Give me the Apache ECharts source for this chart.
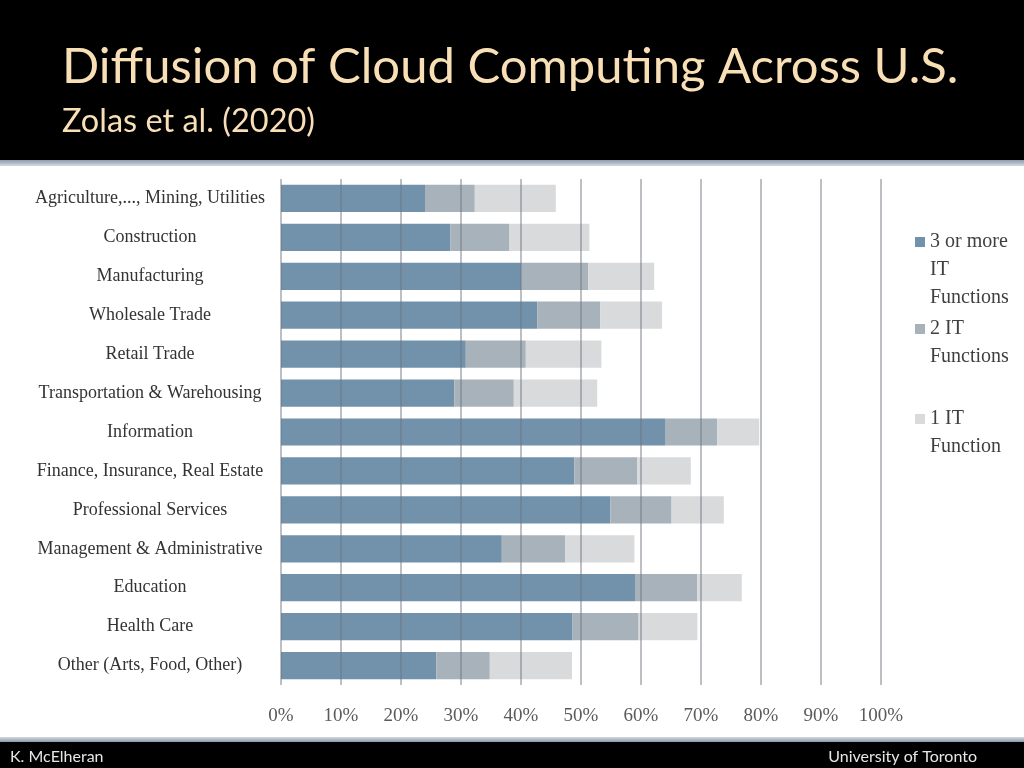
<!DOCTYPE html>
<html>
<head>
<meta charset="utf-8">
<script src="https://cdn.jsdelivr.net/npm/echarts@6/dist/echarts.min.js"></script>
<style>
html,body{margin:0;padding:0;background:#fff;}
#chart{width:1024px;height:768px;}
</style>
</head>
<body>
<div id="chart"></div>
<script>
const categories = [
  'Agriculture,..., Mining, Utilities',
  'Construction',
  'Manufacturing',
  'Wholesale Trade',
  'Retail Trade',
  'Transportation & Warehousing',
  'Information',
  'Finance, Insurance, Real Estate',
  'Professional Services',
  'Management & Administrative',
  'Education',
  'Health Care',
  'Other (Arts, Food, Other)'
];
const threeOrMore = [24.0, 28.2, 40.1, 42.7, 30.8, 28.9, 64.0, 48.9, 54.9, 36.8, 59.0, 48.6, 25.9];
const twoIT =       [8.3, 9.8, 11.1, 10.5, 10.0, 9.9, 8.7, 10.5, 10.2, 10.6, 10.4, 11.0, 8.9];
const oneIT =       [13.5, 13.4, 11.0, 10.3, 12.6, 13.9, 7.0, 8.9, 8.7, 11.5, 7.4, 9.8, 13.7];
const seriesNames = ['3 or more IT Functions', '2 IT Functions', '1 IT Function'];
const legendLabels = ['3 or more\nIT\nFunctions', '2 IT\nFunctions', '1 IT\nFunction'];
const titleText = 'Diffusion of Cloud Computing Across U.S.';
const subtitleText = 'Zolas et al. (2020)';
const footerLeft = 'K. McElheran';
const footerRight = 'University of Toronto';

const colors = ['#7292ab', '#a8b2bb', '#d9dadc'];
const serif = '"Liberation Serif", "DejaVu Serif", serif';
const LH = 28;

const chart = echarts.init(document.getElementById('chart'));

// legend icon: a 10px square at the top of a taller (invisible) box, so it lines up with the first text line
function makeLegend(i, top, lines) {
  const h = 10 + (lines - 1) * LH;
  return {
    show: true,
    orient: 'vertical',
    left: 915,
    top: top,
    padding: 0,
    itemWidth: 10,
    itemHeight: h,
    selectedMode: false,
    data: [{ name: seriesNames[i], icon: 'path://M0,0L10,0L10,10L0,10Z M0,' + h + 'L0.01,' + h + 'Z' }],
    formatter: function () { return legendLabels[i]; },
    textStyle: {
      fontFamily: serif,
      fontSize: 20,
      color: '#404040',
      lineHeight: LH
    }
  };
}

const option = {
  backgroundColor: '#ffffff',
  animation: false,
  grid: { left: 281, right: 143, top: 179, bottom: 83, containLabel: false },
  legend: [
    makeLegend(0, 228, 3),
    makeLegend(1, 315, 2),
    makeLegend(2, 405, 2)
  ],
  xAxis: {
    type: 'value',
    min: 0,
    max: 100,
    interval: 10,
    z: 5,
    axisLine: { show: false },
    axisTick: { show: false },
    splitLine: { show: true, lineStyle: { color: 'rgba(110,118,128,0.62)', width: 1.5 } },
    axisLabel: {
      formatter: '{value}%',
      fontFamily: serif,
      fontSize: 19,
      color: '#5a5a5a',
      margin: 22
    }
  },
  yAxis: {
    type: 'category',
    inverse: true,
    data: categories,
    axisLine: { show: false },
    axisTick: { show: false },
    axisLabel: {
      align: 'center',
      margin: 131,
      fontFamily: serif,
      fontSize: 18,
      color: '#333333'
    }
  },
  series: [
    { name: seriesNames[0], type: 'bar', stack: 'a', data: threeOrMore, barWidth: '70%', itemStyle: { color: colors[0] } },
    { name: seriesNames[1], type: 'bar', stack: 'a', data: twoIT, barWidth: '70%', itemStyle: { color: colors[1] } },
    { name: seriesNames[2], type: 'bar', stack: 'a', data: oneIT, barWidth: '70%', itemStyle: { color: colors[2] } }
  ],
  graphic: [
    { type: 'rect', left: 0, top: 0, shape: { width: 1024, height: 160 }, style: { fill: '#000000' }, silent: true },
    { type: 'rect', left: 0, top: 160, shape: { width: 1024, height: 6 },
      style: { fill: new echarts.graphic.LinearGradient(0, 0, 0, 1, [{offset: 0, color: '#8c9aab'}, {offset: 1, color: '#d3d9e0'}]) }, silent: true },
    { type: 'text', left: 62, top: 43, style: { text: titleText, fill: '#f8dfb6', font: '49px Lato, "Open Sans", sans-serif', shadowColor: 'rgba(0,0,0,0.6)', shadowBlur: 2, shadowOffsetX: 1, shadowOffsetY: 1 }, silent: true },
    { type: 'text', left: 62, top: 105, style: { text: subtitleText, fill: '#f8dfb6', font: '32.5px Lato, "Open Sans", sans-serif' }, silent: true },
    { type: 'rect', left: 0, top: 737, shape: { width: 1024, height: 5 },
      style: { fill: new echarts.graphic.LinearGradient(0, 0, 0, 1, [{offset: 0, color: '#d3d9e0'}, {offset: 1, color: '#8c9aab'}]) }, silent: true },
    { type: 'rect', left: 0, top: 742, shape: { width: 1024, height: 26 }, style: { fill: '#000000' }, silent: true },
    { type: 'text', left: 10, top: 749, style: { text: footerLeft, fill: '#e6e6e6', font: '16px Lato, "Open Sans", sans-serif' }, silent: true },
    { type: 'text', right: 47, top: 749, style: { text: footerRight, fill: '#e6e6e6', font: '16px Lato, "Open Sans", sans-serif' }, silent: true }
  ]
};
chart.setOption(option);
</script>
</body>
</html>
